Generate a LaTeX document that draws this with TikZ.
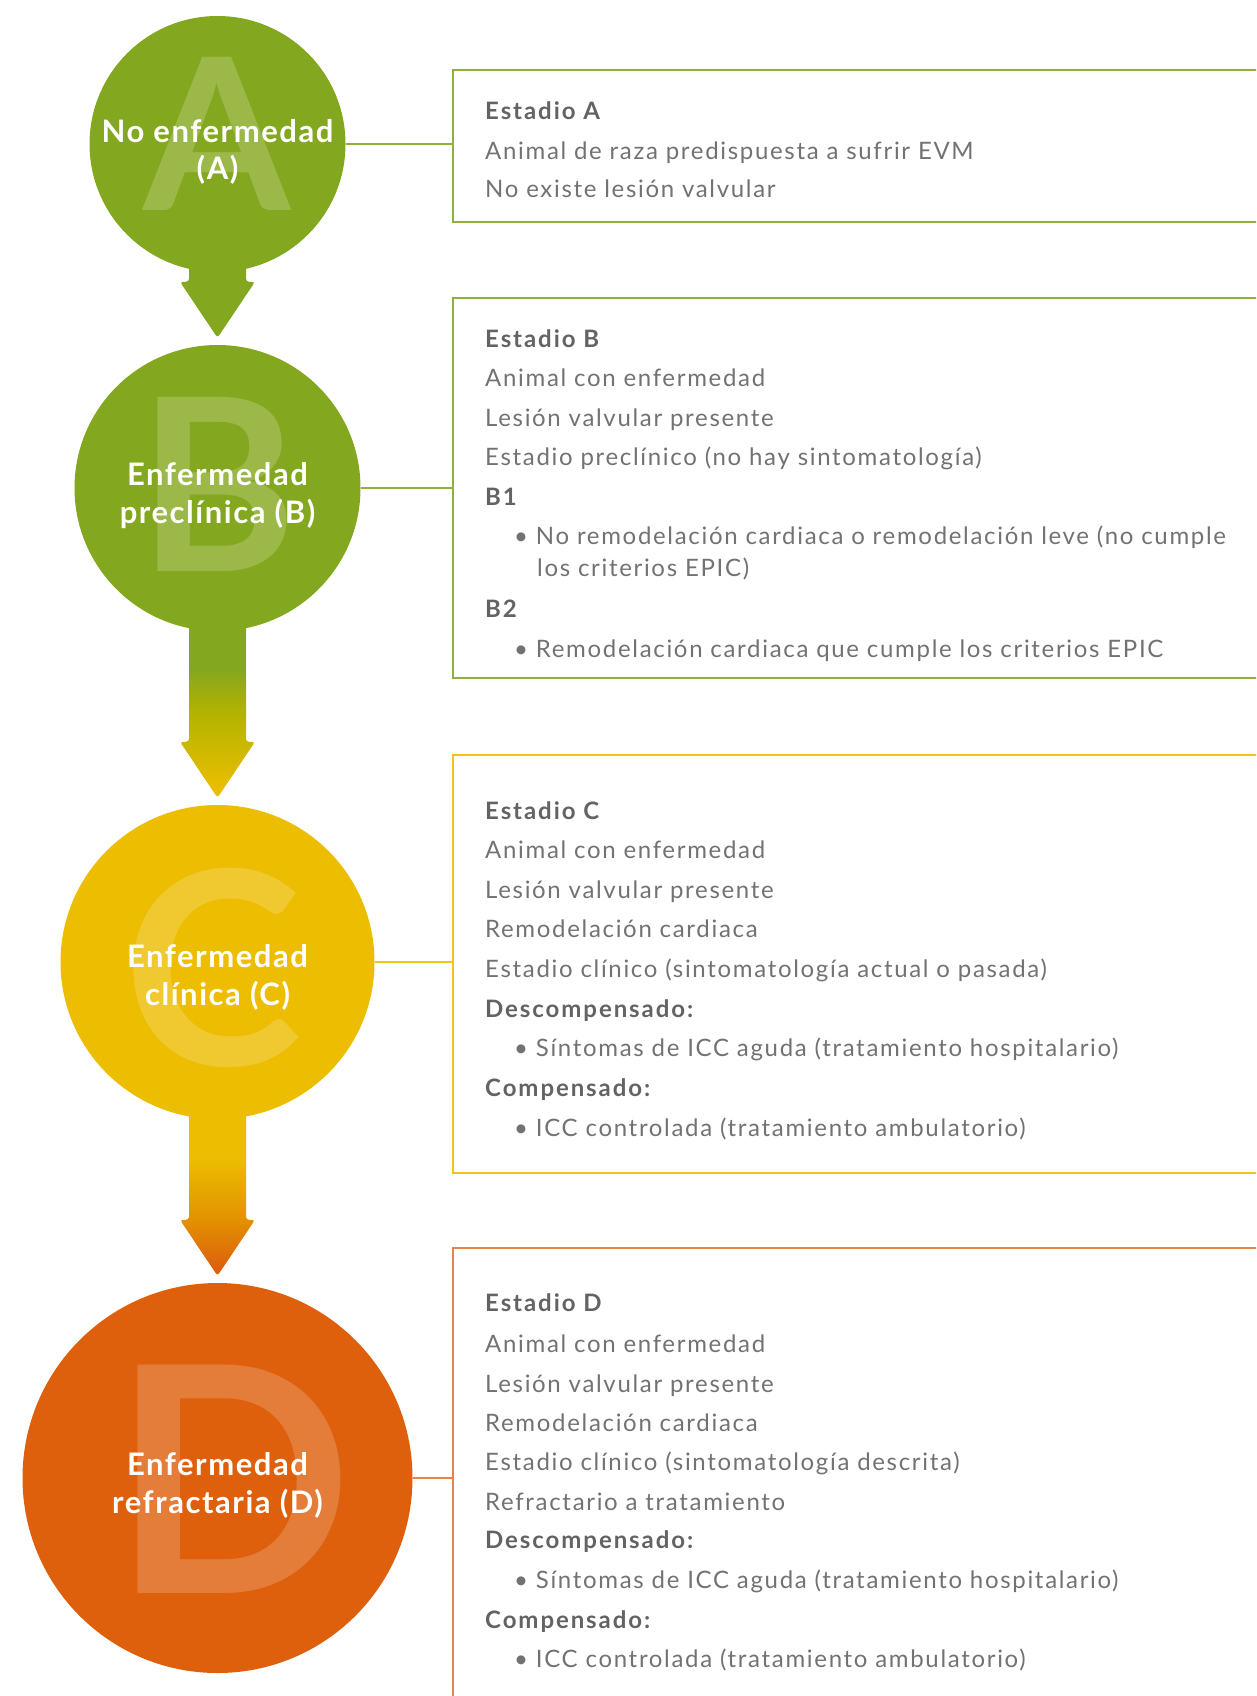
\documentclass[tikz,border=0pt]{standalone}
\usepackage{fontspec}
\setmainfont{Lato}
\usetikzlibrary{calc,backgrounds}

% stage colours
\definecolor{stgreen}{HTML}{83A71F}
\definecolor{stgreenline}{HTML}{8FB13A}
\definecolor{styellow}{HTML}{ECBD00}
\definecolor{styellowline}{HTML}{F0C31E}
\definecolor{storange}{HTML}{DE5F0C}
\definecolor{storangeline}{HTML}{E6824A}
\definecolor{olivemid}{HTML}{B3B200}
\definecolor{olivelight}{HTML}{C8B800}
\definecolor{ambermid}{HTML}{E39400}
\definecolor{bodygrey}{HTML}{727272}
\definecolor{headgrey}{HTML}{636363}

% vertical blends for the arrows between stages (0bp = bottom)
\pgfdeclareverticalshading{greentoyellow}{100bp}{color(0bp)=(styellow); color(27bp)=(styellow); color(40bp)=(olivelight); color(48bp)=(olivemid); color(60bp)=(stgreen); color(100bp)=(stgreen)}
\pgfdeclareverticalshading{yellowtoorange}{100bp}{color(0bp)=(storange); color(27bp)=(storange); color(42bp)=(ambermid); color(58bp)=(styellow); color(100bp)=(styellow)}

\tikzset{
  stage/.style={circle, inner sep=0pt, draw=none},
  bigletter/.style={inner sep=0pt, anchor=base, font=\bfseries},
  stagelabel/.style={inner sep=0pt, anchor=base, text=white, font=\fontsize{31}{37}\selectfont\bfseries\addfontfeature{LetterSpace=5}},
  infobox/.style={draw, line width=1.6pt, fill=none, anchor=north west, minimum width=830pt, inner sep=0pt},
  link/.style={line width=1.6pt},
  bodytext/.style={inner sep=0pt, anchor=base west, text=bodygrey, font=\fontsize{24}{28}\selectfont\addfontfeature{LetterSpace=7}},
  headtext/.style={inner sep=0pt, anchor=base west, text=headgrey, font=\fontsize{24}{28}\selectfont\bfseries\addfontfeature{LetterSpace=8}},
}

\begin{document}
\begin{tikzpicture}[x=1pt,y=-1pt]
\useasboundingbox (0,0) rectangle (1256,1696);
\clip (0,0) rectangle (1256,1696);

% ---- stage circles ----
\node[stage, fill=stgreen, minimum size=256pt] (cA) at (217.5,144) {};
\node[stage, fill=stgreen, minimum size=286pt] (cB) at (217.5,488) {};
\node[stage, fill=styellow, minimum size=314pt] (cC) at (217.5,962) {};
\node[stage, fill=storange, minimum size=390pt] (cD) at (217.5,1478) {};

% ---- big watermark letters ----
\node[bigletter, text=white!19!stgreen, font=\fontsize{212}{212}\selectfont\bfseries] (lA) at (217.5,211) {A};
\node[bigletter, text=white!19!stgreen, font=\fontsize{241}{241}\selectfont\bfseries] (lB) at (217.5,571) {B};
\node[bigletter, text=white!19!styellow, font=\fontsize{270}{270}\selectfont\bfseries] (lC) at (213,1065) {C};
\node[bigletter, text=white!19!storange, font=\fontsize{316}{316}\selectfont\bfseries] (lD) at (233,1593) {D};

% ---- stage labels ----
\node[stagelabel] (tA1) at (217.5,142.7) {No enfermedad};
\node[stagelabel] (tA2) at (217.5,180) {(A)};
\node[stagelabel] (tB1) at (217.5,485) {Enfermedad};
\node[stagelabel] (tB2) at (217.5,523) {preclínica (B)};
\node[stagelabel] (tC1) at (217.5,967) {Enfermedad};
\node[stagelabel] (tC2) at (217.5,1005) {clínica (C)};
\node[stagelabel] (tD1) at (217.5,1475) {Enfermedad};
\node[stagelabel] (tD2) at (217.5,1513) {refractaria (D)};

% ---- arrows between stages ----
\begin{scope}[on background layer]
  \fill[stgreen, rounded corners=3pt]
    ($(cA.south)+(-28.5,-20)$) -- ($(cB.north)+(-28.5,-63)$) -- ($(cB.north)+(-37.5,-63)$)
    -- ($(cB.north)+(0,-7)$) -- ($(cB.north)+(37.5,-63)$) -- ($(cB.north)+(28.5,-63)$)
    -- ($(cA.south)+(28.5,-20)$) -- cycle;
  \shade[shading=greentoyellow, rounded corners=3pt]
    ($(cB.south)+(-28.5,-20)$) -- ($(cC.north)+(-28.5,-63)$) -- ($(cC.north)+(-37.5,-63)$)
    -- ($(cC.north)+(0,-7)$) -- ($(cC.north)+(37.5,-63)$) -- ($(cC.north)+(28.5,-63)$)
    -- ($(cB.south)+(28.5,-20)$) -- cycle;
  \shade[shading=yellowtoorange, rounded corners=3pt]
    ($(cC.south)+(-28.5,-20)$) -- ($(cD.north)+(-28.5,-63)$) -- ($(cD.north)+(-37.5,-63)$)
    -- ($(cD.north)+(0,-7)$) -- ($(cD.north)+(37.5,-63)$) -- ($(cD.north)+(28.5,-63)$)
    -- ($(cC.south)+(28.5,-20)$) -- cycle;
\end{scope}

% ---- description boxes ----
\node[infobox, draw=stgreenline, minimum height=152pt] (bA) at (452,69) {};
\node[infobox, draw=stgreenline, minimum height=380pt] (bB) at (452,297) {};
\node[infobox, draw=styellowline, minimum height=418pt] (bC) at (452,754) {};
\node[infobox, draw=storangeline, minimum height=480pt] (bD) at (452,1247) {};

% ---- links from circles to boxes ----
\draw[link, stgreenline] (cA.east) -- (cA.east -| bA.west);
\draw[link, stgreenline] (cB.east) -- (cB.east -| bB.west);
\draw[link, styellowline] (cC.east) -- (cC.east -| bC.west);
\draw[link, storangeline] (cD.east) -- (cD.east -| bD.west);

% ---- stage A text ----
\node[headtext] (a1) at (485,120) {Estadio A};
\node[bodytext] (a2) at (485,159.5) {Animal de raza predispuesta a sufrir EVM};
\node[bodytext] (a3) at (485,198) {No existe lesión valvular};

% ---- stage B text ----
\node[headtext] (b1) at (485,347.8) {Estadio B};
\node[bodytext] (b2) at (485,386.8) {Animal con enfermedad};
\node[bodytext] (b3) at (485,426.8) {Lesión valvular presente};
\node[bodytext] (b4) at (485,465.7) {Estadio preclínico (no hay sintomatología)};
\node[headtext] (b5) at (485,505.8) {B1};
\node[bodytext] (b6) at (514,544.7) {• No remodelación cardiaca o remodelación leve (no cumple};
\node[bodytext] (b7) at (537,576.1) {los criterios EPIC)};
\node[headtext] (b8) at (485,617.2) {B2};
\node[bodytext] (b9) at (514,657.2) {• Remodelación cardiaca que cumple los criterios EPIC};

% ---- stage C text ----
\node[headtext] (c1) at (485,819.5) {Estadio C};
\node[bodytext] (c2) at (485,858.4) {Animal con enfermedad};
\node[bodytext] (c3) at (485,898.5) {Lesión valvular presente};
\node[bodytext] (c4) at (485,937.4) {Remodelación cardiaca};
\node[bodytext] (c5) at (485,977.4) {Estadio clínico (sintomatología actual o pasada)};
\node[headtext] (c6) at (485,1017.5) {Descompensado:};
\node[bodytext] (c7) at (514,1056.4) {• Síntomas de ICC aguda (tratamiento hospitalario)};
\node[headtext] (c8) at (485,1096.4) {Compensado:};
\node[bodytext] (c9) at (514,1136.5) {• ICC controlada (tratamiento ambulatorio)};

% ---- stage D text ----
\node[headtext] (d1) at (485,1311.7) {Estadio D};
\node[bodytext] (d2) at (485,1352.7) {Animal con enfermedad};
\node[bodytext] (d3) at (485,1392) {Lesión valvular presente};
\node[bodytext] (d4) at (485,1431.7) {Remodelación cardiaca};
\node[bodytext] (d5) at (485,1470) {Estadio clínico (sintomatología descrita)};
\node[bodytext] (d6) at (485,1510) {Refractario a tratamiento};
\node[headtext] (d7) at (485,1548) {Descompensado:};
\node[bodytext] (d8) at (514,1588) {• Síntomas de ICC aguda (tratamiento hospitalario)};
\node[headtext] (d9) at (485,1628) {Compensado:};
\node[bodytext] (d10) at (514,1667) {• ICC controlada (tratamiento ambulatorio)};
\end{tikzpicture}
\end{document}
